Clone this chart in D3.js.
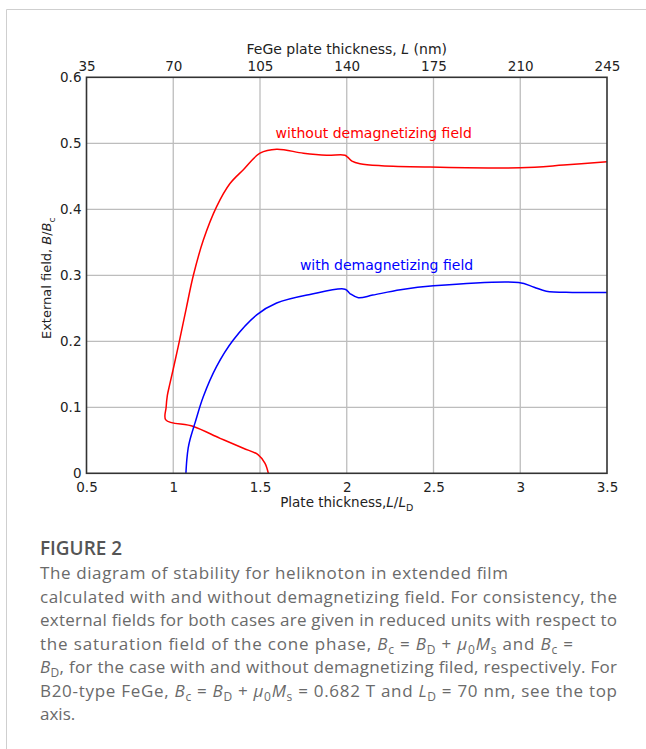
<!DOCTYPE html>
<html>
<head>
<meta charset="utf-8">
<script src="https://cdn.jsdelivr.net/npm/d3@7/dist/d3.min.js"></script>
<style>
body { margin: 0; background: #fff; }
.chart text { font-family: "DejaVu Sans", sans-serif; fill: #222; }
.caption text { font-family: "Open Sans", sans-serif; }
</style>
</head>
<body>
<svg id="fig" width="646" height="749"></svg>
<script>
// axis ticks
var ratioTicks = [0.5, 1, 1.5, 2, 2.5, 3, 3.5];
var ratioLabels = ['0.5', '1', '1.5', '2', '2.5', '3', '3.5'];
var nmLabels = ['35', '70', '105', '140', '175', '210', '245'];
var fieldTicks = [0, 0.1, 0.2, 0.3, 0.4, 0.5, 0.6];
var fieldLabels = ['0', '0.1', '0.2', '0.3', '0.4', '0.5', '0.6'];

// without demagnetizing field (red)
var noDemagL = [1.548, 1.529, 1.49, 1.404, 1.27, 1.116, 0.957, 0.959, 0.966, 0.98, 1.0, 1.035, 1.075, 1.116, 1.173, 1.25, 1.327, 1.404, 1.5, 1.596, 1.75, 1.884, 1.99, 2.005, 2.03, 2.076, 2.2, 2.48, 3.0, 3.25, 3.5];
var noDemagB = [0, 0.015, 0.028, 0.038, 0.053, 0.071, 0.081, 0.1, 0.118, 0.135, 0.158, 0.2, 0.25, 0.3, 0.353, 0.404, 0.439, 0.46, 0.485, 0.491, 0.485, 0.482, 0.482, 0.479, 0.473, 0.469, 0.466, 0.464, 0.463, 0.467, 0.472];

// with demagnetizing field (blue)
var demagL = [1.073, 1.078, 1.086, 1.096, 1.125, 1.173, 1.25, 1.346, 1.481, 1.596, 1.788, 1.99, 2.02, 2.067, 2.15, 2.31, 2.5, 2.99, 3.08, 3.15, 3.3, 3.5];
var demagB = [0, 0.02, 0.038, 0.0505, 0.076, 0.116, 0.162, 0.202, 0.24, 0.258, 0.271, 0.279, 0.272, 0.266, 0.27, 0.278, 0.284, 0.289, 0.282, 0.276, 0.274, 0.274];

var svg = d3.select('#fig');

// card border
svg.append('path')
    .attr('d', 'M6.5,749 V9.5 H646')
    .attr('fill', 'none')
    .attr('stroke', '#cfcfcf')
    .attr('stroke-width', 1);

var plotL = 86.5, plotR = 607, plotT = 77.3, plotB = 473.3;

var x = d3.scaleLinear().domain([0.5, 3.5]).range([plotL, plotR]);
var y = d3.scaleLinear().domain([0, 0.6]).range([plotB, plotT]);

var g = svg.append('g').attr('class', 'chart');

// grid
g.selectAll('.vgrid')
    .data(ratioTicks.slice(1, -1))
    .enter().append('line')
    .attr('x1', function(d) { return x(d); })
    .attr('x2', function(d) { return x(d); })
    .attr('y1', plotT).attr('y2', plotB)
    .attr('stroke', '#bdbdbd').attr('stroke-width', 1.3);

g.selectAll('.hgrid')
    .data(fieldTicks.slice(1, -1))
    .enter().append('line')
    .attr('y1', function(d) { return y(d); })
    .attr('y2', function(d) { return y(d); })
    .attr('x1', plotL).attr('x2', plotR)
    .attr('stroke', '#bdbdbd').attr('stroke-width', 1.3);

// tick labels via axes, tick marks hidden
var bottomAxis = d3.axisBottom(x).tickValues(ratioTicks)
    .tickFormat(function(d, i) { return ratioLabels[i]; }).tickSize(0).tickPadding(9);
var topAxis = d3.axisTop(x).tickValues(ratioTicks)
    .tickFormat(function(d, i) { return nmLabels[i]; }).tickSize(0).tickPadding(6);
var leftAxis = d3.axisLeft(y).tickValues(fieldTicks)
    .tickFormat(function(d, i) { return fieldLabels[i]; }).tickSize(0).tickPadding(5);

[[bottomAxis, 'translate(0,' + plotB + ')'], [topAxis, 'translate(0,' + plotT + ')'], [leftAxis, 'translate(' + plotL + ',0)']]
    .forEach(function(a) {
        var ag = g.append('g').attr('transform', a[1]).call(a[0]);
        ag.select('.domain').remove();
        ag.selectAll('text').style('font-family', '"DejaVu Sans", sans-serif')
            .style('font-size', '13.5px').attr('fill', '#222');
    });

// curves
var line = d3.line()
    .x(function(d) { return x(d[0]); })
    .y(function(d) { return y(d[1]); })
    .curve(d3.curveCatmullRom.alpha(0.5));

g.append('path')
    .datum(d3.zip(noDemagL, noDemagB))
    .attr('d', line)
    .attr('fill', 'none').attr('stroke', '#ff0000').attr('stroke-width', 1.5);

g.append('path')
    .datum(d3.zip(demagL, demagB))
    .attr('d', line)
    .attr('fill', 'none').attr('stroke', '#0000ff').attr('stroke-width', 1.5);

// frame
g.append('rect')
    .attr('x', plotL).attr('y', plotT)
    .attr('width', plotR - plotL).attr('height', plotB - plotT)
    .attr('fill', 'none').attr('stroke', '#333').attr('stroke-width', 1.6);

// curve labels
g.append('text')
    .attr('x', x(1.59)).attr('y', y(0.508))
    .style('font-size', '14px').style('fill', '#ff0000')
    .text('without demagnetizing field');
g.append('text')
    .attr('x', x(1.73)).attr('y', y(0.308))
    .style('font-size', '14px').style('fill', '#0000ff')
    .text('with demagnetizing field');

// axis titles
var topTitle = g.append('text')
    .attr('x', (plotL + plotR) / 2).attr('y', 54)
    .attr('text-anchor', 'middle').style('font-size', '14px');
topTitle.append('tspan').text('FeGe plate thickness, ');
topTitle.append('tspan').style('font-style', 'italic').text('L');
topTitle.append('tspan').text(' (nm)');

var botTitle = g.append('text')
    .attr('x', (plotL + plotR) / 2).attr('y', 507)
    .attr('text-anchor', 'middle').style('font-size', '13.5px');
botTitle.append('tspan').text('Plate thickness,');
botTitle.append('tspan').style('font-style', 'italic').text('L');
botTitle.append('tspan').text('/');
botTitle.append('tspan').style('font-style', 'italic').text('L');
botTitle.append('tspan').attr('dy', 4).style('font-size', '9.5px').text('D');

var yTitle = g.append('text')
    .attr('transform', 'translate(51,' + ((plotT + plotB) / 2 + 3) + ') rotate(-90)')
    .attr('text-anchor', 'middle').style('font-size', '13px');
yTitle.append('tspan').text('External field, ');
yTitle.append('tspan').style('font-style', 'italic').text('B');
yTitle.append('tspan').text('/');
yTitle.append('tspan').style('font-style', 'italic').text('B');
yTitle.append('tspan').attr('dy', 4).style('font-size', '9px').text('c');

// caption
var cap = svg.append('g').attr('class', 'caption');
cap.append('text')
    .attr('x', 40).attr('y', 555)
    .attr('textLength', 82).attr('lengthAdjust', 'spacingAndGlyphs')
    .style('font-size', '19px').style('font-weight', 600).attr('fill', '#555')
    .text('FIGURE 2');

var I = 'i', S = 's', N = 'n';
var captionLines = [
    [['The diagram of stability for heliknoton in extended film', N]],
    [['calculated with and without demagnetizing field. For consistency, the', N]],
    [['external fields for both cases are given in reduced units with respect to', N]],
    [['the saturation field of the cone phase, ', N], ['B', I], ['c', S], [' = ', N], ['B', I], ['D', S], [' + ', N], ['\u03bc', I], ['0', S], ['M', I], ['s', S], [' and ', N], ['B', I], ['c', S], [' =', N]],
    [['B', I], ['D', S], [', for the case with and without demagnetizing filed, respectively. For', N]],
    [['B20-type FeGe, ', N], ['B', I], ['c', S], [' = ', N], ['B', I], ['D', S], [' + ', N], ['\u03bc', I], ['0', S], ['M', I], ['s', S], [' = 0.682 T and ', N], ['L', I], ['D', S], [' = 70 nm, see the top', N]],
    [['axis.', N]]
];
var captionWidths = [468, 577, 577, 533, 577, 577, 0];

captionLines.forEach(function(segs, i) {
    var t = cap.append('text')
        .attr('x', 40).attr('y', 579 + i * 23.5)
        .style('font-size', '17px').attr('fill', '#6a6a6a');
    if (captionWidths[i]) t.attr('textLength', captionWidths[i]).attr('lengthAdjust', 'spacing');
    var shifted = false;
    segs.forEach(function(s) {
        var ts = t.append('tspan').text(s[0]);
        if (s[1] === S) {
            ts.attr('dy', 4).style('font-size', '12px');
            shifted = true;
        } else {
            if (shifted) { ts.attr('dy', -4); shifted = false; }
            if (s[1] === I) ts.style('font-style', 'italic');
        }
    });
});
</script>
</body>
</html>
